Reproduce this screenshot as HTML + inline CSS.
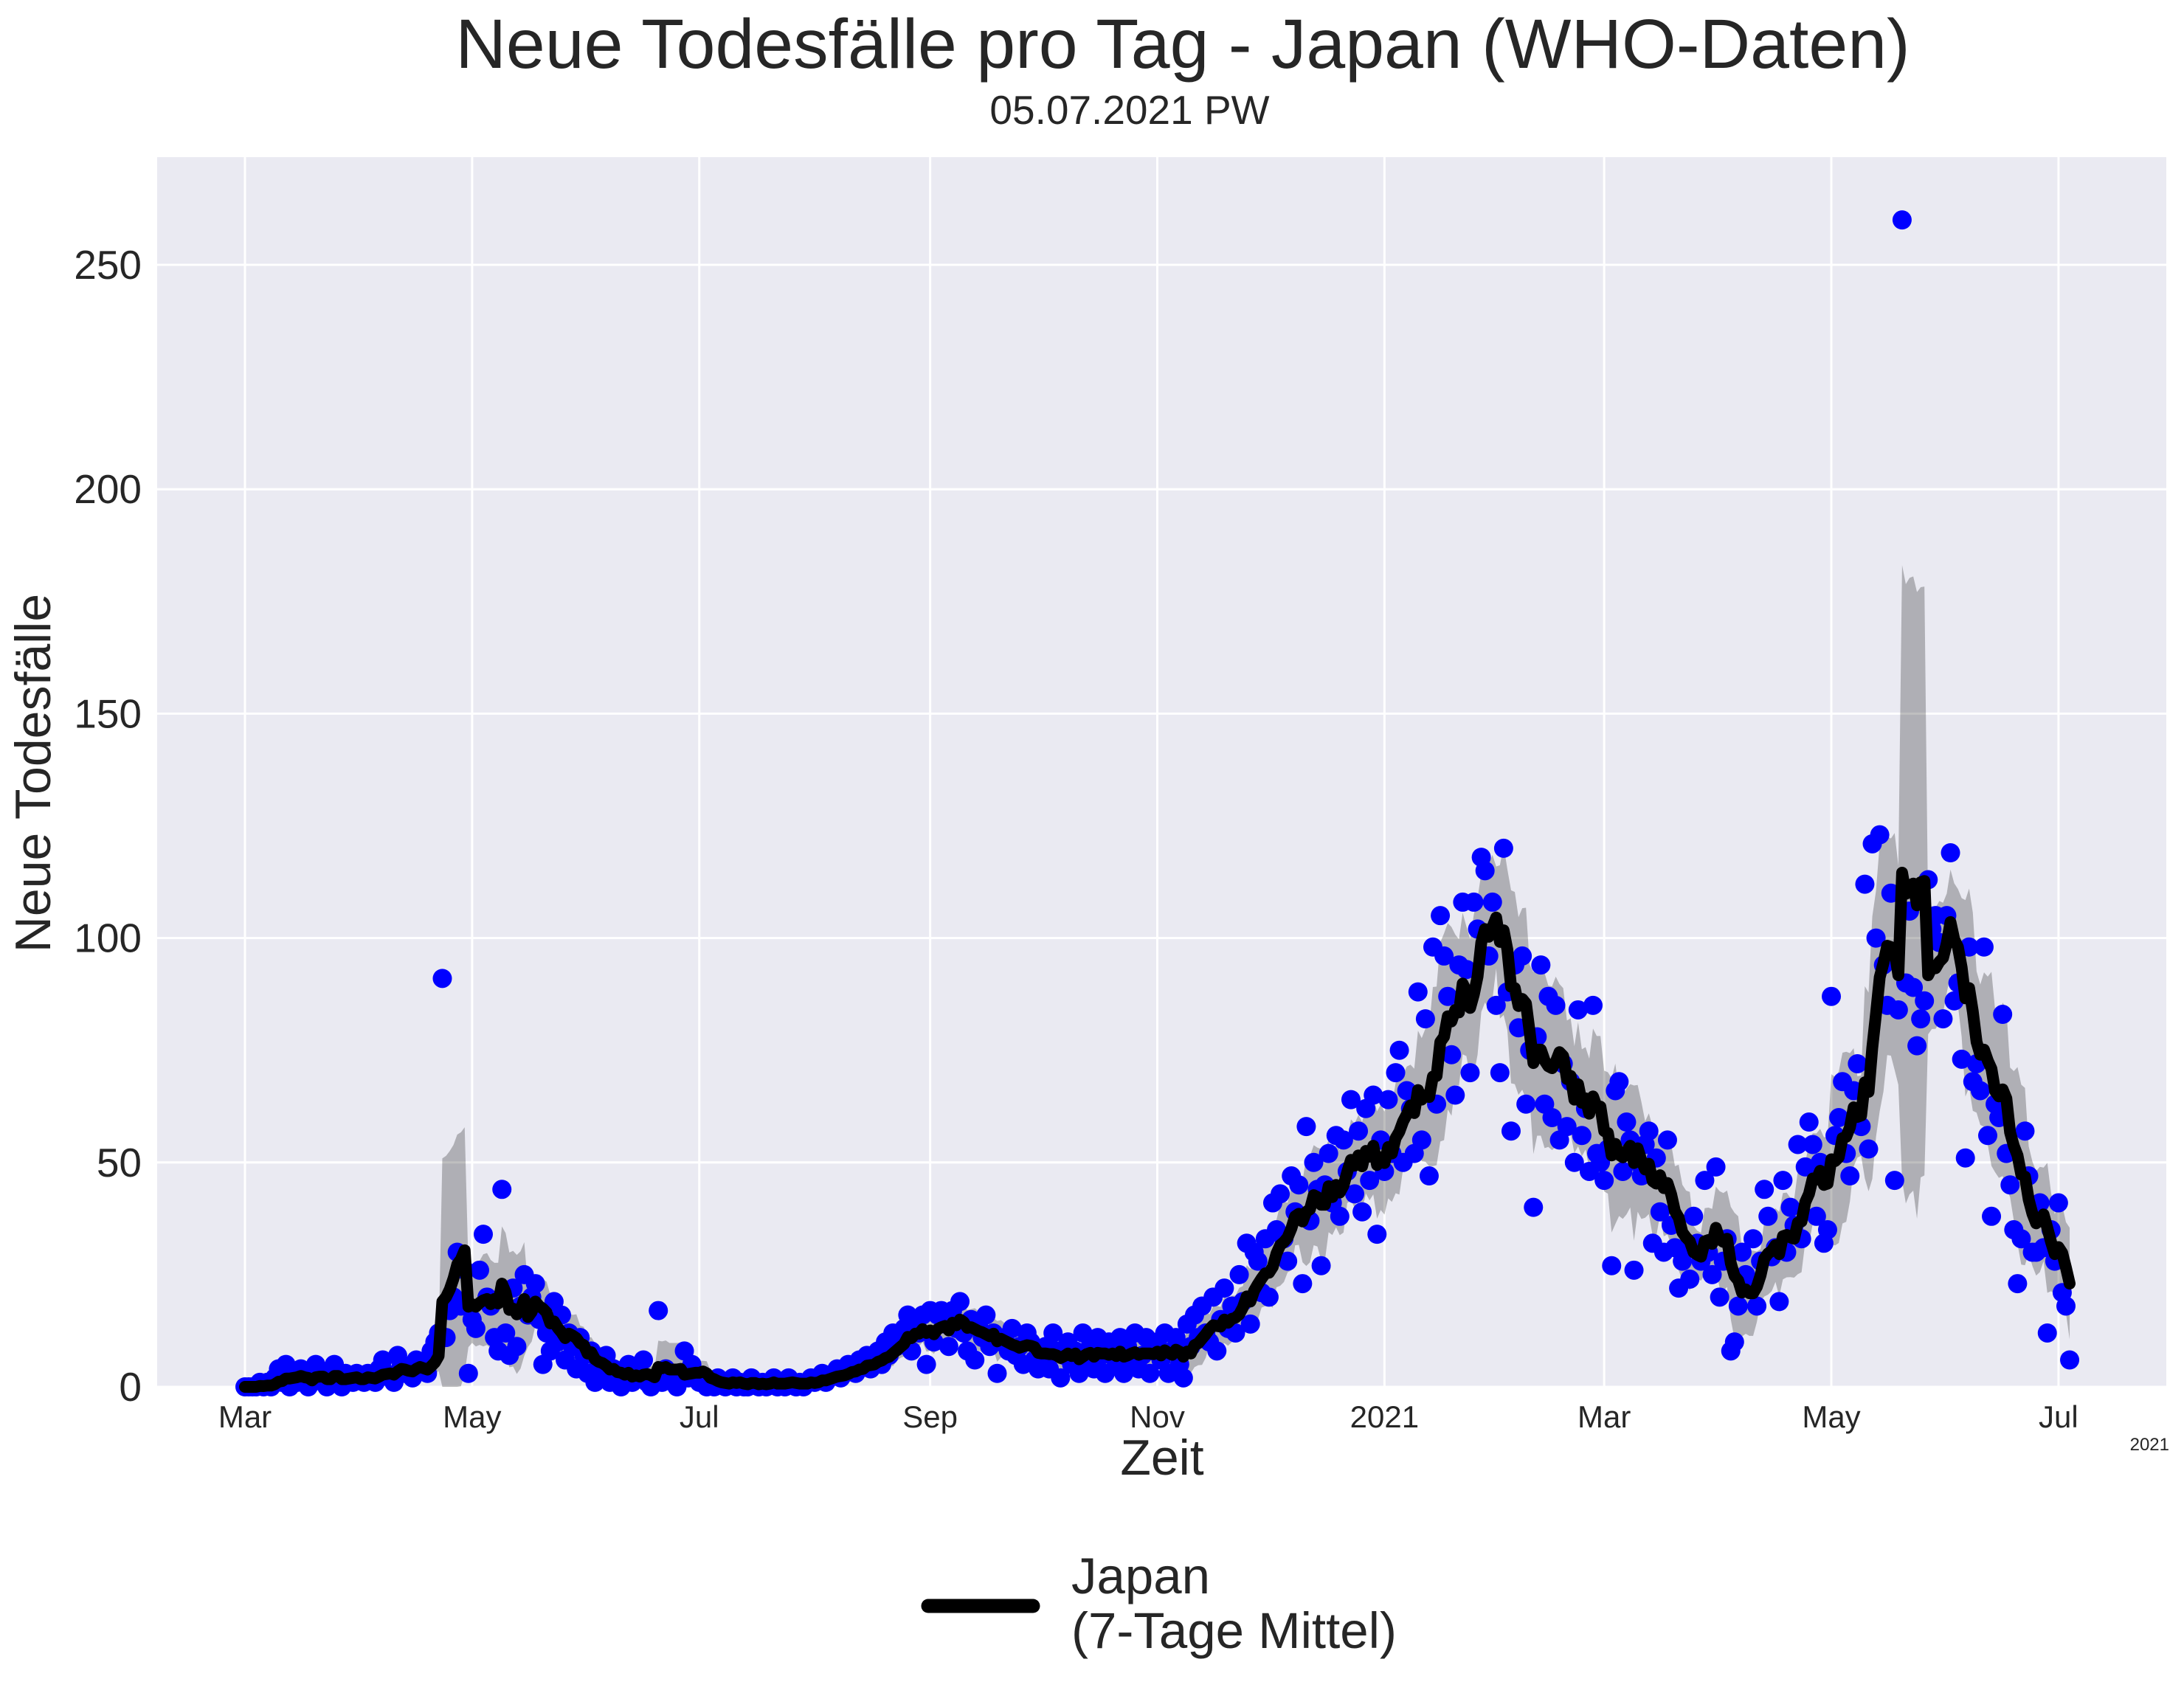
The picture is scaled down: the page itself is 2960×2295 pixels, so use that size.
<!DOCTYPE html>
<html><head><meta charset="utf-8">
<style>
html,body{margin:0;padding:0;background:#fff;}
svg{display:block;font-family:"Liberation Sans",Arial,sans-serif;}
</style></head>
<body>
<svg id="chart" width="2960" height="2295" viewBox="0 0 2960 2295" xmlns="http://www.w3.org/2000/svg">
<text x="1603" y="92" font-size="95" text-anchor="middle" fill="#262626">Neue Todesfälle pro Tag - Japan (WHO-Daten)</text>
<text x="1531" y="168" font-size="55" text-anchor="middle" fill="#262626">05.07.2021 PW</text>
<rect x="213" y="213" width="2723" height="1667" fill="#eaeaf2"/>
<g id="grid"></g>
<g id="band"></g>
<g id="dots"></g>
<g id="line"></g>
<g id="axes"></g>
<text x="1575" y="1999" font-size="68" text-anchor="middle" fill="#262626">Zeit</text>
<text x="2940" y="1966" font-size="24" text-anchor="end" fill="#262626">2021</text>
<text transform="translate(68,1048) rotate(-90)" font-size="68" text-anchor="middle" fill="#262626">Neue Todesfälle</text>
<g>
<line x1="1258" y1="2177" x2="1400" y2="2177" stroke="#000" stroke-width="19" stroke-linecap="round"/>
<text x="1452" y="2160" font-size="69" fill="#262626">Japan</text>
<text x="1452" y="2234" font-size="69" fill="#262626">(7-Tage Mittel)</text>
</g>
</svg>
<script>
const mar20=[0,0,0,0,1,0,1,0,2,4,1,5,0,2,1,4,2,0,1,5,3,1,0,2,5,1,0,3,2,1,3];
const apr20=[2,1,3,2,1,4,6,3,2,1,7,5,3,4,2,6,4,5,3,8,10,12,91,11,17,20,30,18,26,3];
const may20=[15,13,26,34,20,18,11,8,44,12,7,22,9,18,25,16,20,23,15,5,12,8,19,10,16,6,12,9,4,11,7];
const jun20=[3,8,1,5,2,7,1,4,3,0,2,5,1,3,2,6,1,0,2,17,1,4,2,1,0,3,8,2,5,3];
const jul20=[1,2,0,1,0,2,1,0,1,2,0,1,0,0,2,1,0,1,0,1,2,0,1,0,2,1,0,1,0,1,2];
const aug20=[1,2,3,1,2,3,4,2,3,5,4,3,6,5,7,4,6,8,5,10,7,12,9,11,13,16,8,14,12,16,5];
const sep20=[17,10,16,17,14,9,17,13,19,12,8,15,6,14,11,16,9,12,3,10,11,8,13,7,9,5,12,10,6,4];
const oct20=[6,9,4,12,8,2,7,10,5,8,3,12,6,9,4,11,7,3,10,8,5,11,3,9,6,12,4,7,11,3,8];
const nov20=[10,6,12,3,8,11,5,2,14,9,16,11,18,12,10,20,8,15,22,13,18,12,25,19,32,14,30,28,21,33];
const dec20=[20,41,35,43,33,28,47,39,45,23,58,37,50,44,27,45,52,41,56,38,55,48,64,43,57,39,62,46,65,34,55];
const jan21=[48,64,52,70,75,50,66,62,52,88,55,82,47,98,63,105,96,87,74,65,94,108,93,70,108,102,118,115,96,108,85];
const feb21=[70,120,88,57,94,80,96,63,75,40,78,94,63,87,60,85,55,72,58,68,50,84,56,62,48,85,52,50];
const mar21=[46,53,27,66,68,48,59,55,26,50,47,54,57,32,51,39,30,55,36,31,22,28,31,24,38,32,28,46,30,25,49];
const apr21=[20,28,33,8,10,18,30,25,22,33,18,28,44,38,29,31,19,46,30,40,36,54,33,49,59,54,38,50,32,35];
const may21=[87,56,60,68,52,47,66,72,58,112,53,121,100,123,94,85,110,46,84,260,90,106,89,76,82,86,113,102,105,99,82];
const jun21=[105,119,86,90,73,51,98,68,72,66,98,56,38,63,60,83,52,45,35,23,33,57,47,30,30,41,31,12,35,28];
const jul21=[41,21,18,6];
const tickLabels=["Mar","May","Jul","Sep","Nov","2021","Mar","May","Jul"];
const tickDays=[0,61,122,184,245,306,365,426,487];
const yTicks=[0,50,100,150,200,250];

const daily=[].concat(mar20,apr20,may20,jun20,jul20,aug20,sep20,oct20,nov20,dec20,jan21,feb21,mar21,apr21,may21,jun21,jul21);
const NS="http://www.w3.org/2000/svg";
const X0=332,PXD=5.047,Y0=1880,PXU=6.084,L=213,R=2936,T=213,B=1880;
const xs=d=>X0+d*PXD, ys=v=>Y0-v*PXU;
function mk(tag,attrs,parent){const e=document.createElementNS(NS,tag);for(const k in attrs)e.setAttribute(k,attrs[k]);parent.appendChild(e);return e;}
const grid=document.getElementById('grid'),axes=document.getElementById('axes');
yTicks.forEach(v=>{
  const g=mk('line',{x1:L,x2:R,y1:ys(v),y2:ys(v),stroke:'#fff','stroke-width':3},grid);
  
  
  const t=mk('text',{x:192,y:ys(v)+19,'font-size':55,'text-anchor':'end',fill:'#262626'},axes);
  t.textContent=v;
  
  
});
tickDays.forEach((d,i)=>{
  const g=mk('line',{x1:xs(d),x2:xs(d),y1:T,y2:B,stroke:'#fff','stroke-width':3},grid);
  
  
  const t=mk('text',{x:xs(d),y:1935,'font-size':42,'text-anchor':'middle',fill:'#262626'},axes);
  t.textContent=tickLabels[i];
  
  
});
const mean=[],sd=[];
daily.forEach((v,i)=>{
  const w=daily.slice(Math.max(0,i-6),i+1);
  const m=w.reduce((a,b)=>a+b,0)/w.length;
  const s=Math.sqrt(w.reduce((a,b)=>a+(b-m)*(b-m),0)/Math.max(1,w.length-1));
  mean.push(m);sd.push(s);
});
let up=[],dn=[];
mean.forEach((m,i)=>{up.push(xs(i)+','+ys(m+sd[i]));dn.unshift(xs(i)+','+Math.min(ys(m-sd[i]),B));});
const band=mk('polygon',{points:up.concat(dn).join(' '),fill:'#000','fill-opacity':0.25},document.getElementById('band'));


const dots=document.getElementById('dots');
daily.forEach((v,i)=>{
  const c=mk('circle',{cx:xs(i),cy:ys(v),r:13,fill:'#0000ff'},dots);
  
  
});
const pl=mk('polyline',{points:mean.map((m,i)=>xs(i)+','+ys(m)).join(' '),fill:'none',stroke:'#000','stroke-width':16,'stroke-linejoin':'round','stroke-linecap':'round'},document.getElementById('line'));


</script>
</body></html>
